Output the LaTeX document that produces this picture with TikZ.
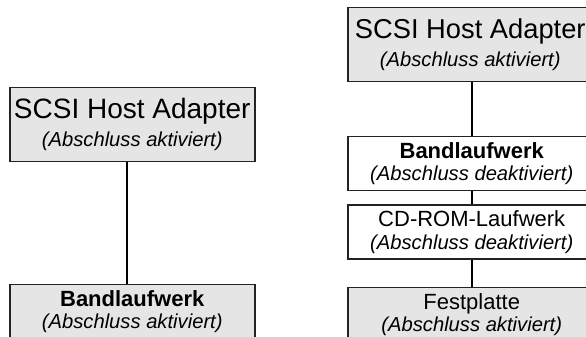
\documentclass[tikz,border=0pt]{standalone}
\usepackage{fontspec}
\setmainfont{Liberation Sans}
\usetikzlibrary{positioning}
\definecolor{boxgray}{RGB}{229,229,229}
\definecolor{boxline}{RGB}{35,35,35}

\begin{document}
\begin{tikzpicture}[x=1pt,y=1pt,node distance=13pt]
  \tikzstyle{unit}=[rectangle,draw=boxline,line width=1.5pt,minimum width=245pt,inner sep=0pt,align=center]
  \tikzstyle{hostbox}=[unit,fill=boxgray,minimum height=74pt,font=\fontsize{20.2}{28.3}\selectfont]
  \tikzstyle{devbox}=[unit,minimum height=54pt,font=\fontsize{20.2}{22.3}\selectfont]
  \tikzstyle{link}=[black,line width=2pt]
  \useasboundingbox (0,0) rectangle (586,337);
  % single device on the bus
  \node[hostbox,anchor=north west] (lhost) at (9,250) {{\fontsize{28}{28}\selectfont SCSI Host Adapter}\\\itshape (Abschluss aktiviert)};
  \node[devbox,fill=boxgray,anchor=north west] (ltape) at (9,53) {\fontsize{22}{22}\selectfont\bfseries Bandlaufwerk\\\fontsize{20.2}{22.3}\selectfont\mdseries\itshape (Abschluss aktiviert)};
  \draw[link] ([xshift=-5.5pt]lhost.south) -- ([xshift=-5.5pt]ltape.north);
  % three devices on the bus
  \node[hostbox,anchor=north west] (rhost) at (347,330) {{\fontsize{27.3}{28}\selectfont SCSI Host Adapter}\\\itshape (Abschluss aktiviert)};
  \node[devbox,minimum width=248pt,fill=white,anchor=north west] (rtape) at (347,201) {\fontsize{22}{22}\selectfont\bfseries Bandlaufwerk\\\fontsize{20.2}{22.3}\selectfont\mdseries\itshape (Abschluss deaktiviert)};
  \node[devbox,minimum width=248pt,fill=white,below=of rtape] (rcd) {\fontsize{22}{22}\selectfont CD-ROM-Laufwerk\\\fontsize{20.2}{22.3}\selectfont\itshape (Abschluss deaktiviert)};
  \node[devbox,minimum width=248pt,fill=boxgray,below=27pt of rcd] (rdisk) {\fontsize{22}{22}\selectfont Festplatte\\\fontsize{20.2}{22.3}\selectfont\itshape (Abschluss aktiviert)};
  \draw[link] (rtape.north) -- (rtape.north |- rhost.south);
  \draw[link] (rtape) -- (rcd);
  \draw[link] (rcd) -- (rdisk);
\end{tikzpicture}
\end{document}
